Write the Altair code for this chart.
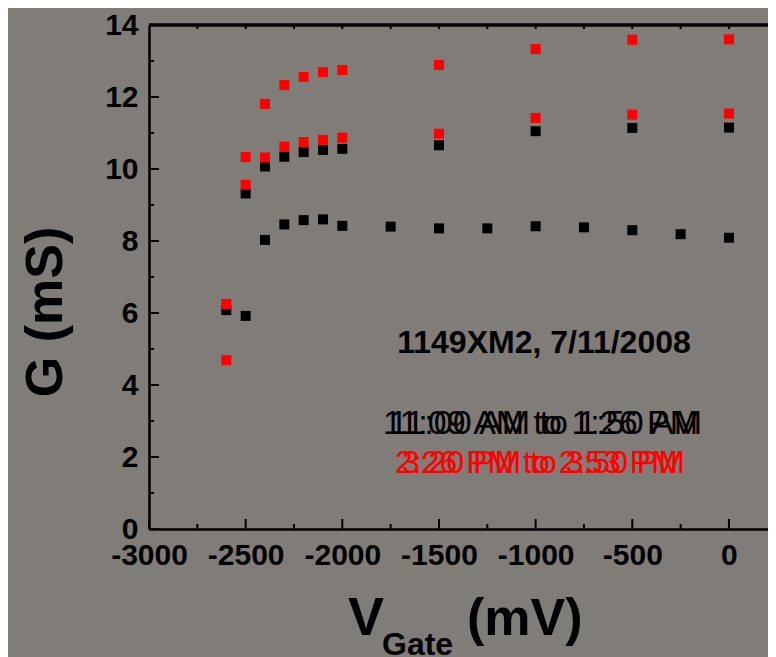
import altair as alt
import pandas as pd

# ---- data ----
v_black_upper = [-2500, -2400, -2300, -2200, -2100, -2000, -1500, -1000, -500, 0]
g_black_upper = [9.32, 10.07, 10.34, 10.47, 10.53, 10.56, 10.66, 11.05, 11.14, 11.15]

v_black_lower = [-2600, -2500, -2400, -2300, -2200, -2100, -2000, -1750, -1500, -1250, -1000, -750, -500, -250, 0]
g_black_lower = [6.08, 5.92, 8.03, 8.46, 8.58, 8.60, 8.42, 8.40, 8.35, 8.35, 8.41, 8.38, 8.30, 8.19, 8.09]

v_red_upper = [-2600, -2500, -2400, -2300, -2200, -2100, -2000, -1500, -1000, -500, 0]
g_red_upper = [6.25, 10.33, 11.81, 12.33, 12.56, 12.69, 12.75, 12.89, 13.33, 13.59, 13.60]

v_red_lower = [-2600, -2500, -2400, -2300, -2200, -2100, -2000, -1500, -1000, -500, 0]
g_red_lower = [4.69, 9.56, 10.32, 10.62, 10.75, 10.81, 10.87, 10.98, 11.42, 11.51, 11.54]

x_major = [-3000, -2500, -2000, -1500, -1000, -500, 0]
x_minor = [-2750, -2250, -1750, -1250, -750, -250]
x_top = [-2750, -2500, -2250, -2000, -1750, -1500, -1250, -1000, -750, -500, -250, 0]
y_major = [0, 2, 4, 6, 8, 10, 12, 14]
y_minor = [1, 3, 5, 7, 9, 11, 13]

title_text = "1149XM2, 7/11/2008"
black_texts = ["11:09 AM to 1:26 PM", "11:00 AM to 1:50 AM"]
red_texts = ["2:26 PM to 2:53 PM", "3:20 PM to 3:50 PM"]

# ---- layout ----
W, H = 619, 504
BG = "#807c78"
FONT = "Liberation Sans"

black_df = pd.DataFrame({
    "v": v_black_upper + v_black_lower,
    "g": g_black_upper + g_black_lower,
})
red_df = pd.DataFrame({
    "v": v_red_upper + v_red_lower,
    "g": g_red_upper + g_red_lower,
})

xscale = alt.Scale(domain=[-3000, 202], nice=False, zero=False)
yscale = alt.Scale(domain=[0, 14], nice=False, zero=False)

common_axis = dict(title=None, ticks=False, tickSize=0, grid=False,
                   domain=True, domainColor="black", domainWidth=2.5,
                   labelFont=FONT, labelFontSize=30, labelFontWeight="bold",
                   labelColor="black", labelPadding=11, labelFlush=False,
                   labelOverlap=False, labelExpr="toString(datum.value)")
xaxis = alt.Axis(values=x_major, **common_axis)
yaxis = alt.Axis(values=y_major, **common_axis)

X = alt.X("v:Q", scale=xscale, axis=xaxis)
Y = alt.Y("g:Q", scale=yscale, axis=yaxis)

black_pts = alt.Chart(black_df).mark_square(size=100, color="black", opacity=1).encode(x=X, y=Y)
red_pts = alt.Chart(red_df).mark_square(size=100, color="#ff0000", opacity=1).encode(x=X, y=Y)

def xrules(vals, y0, y1):
    return alt.Chart(pd.DataFrame({"v": vals})).mark_rule(color="black", strokeWidth=2).encode(
        x=X, y=alt.value(y0), y2=alt.value(y1))

def yrules(vals, x0, x1):
    return alt.Chart(pd.DataFrame({"g": vals})).mark_rule(color="black", strokeWidth=2).encode(
        y=Y, x=alt.value(x0), x2=alt.value(x1))

ticks = [
    xrules(x_major, H, H - 10),
    xrules(x_minor, H, H - 5),
    xrules(x_top, 0, 4),
    yrules(y_major, 0, 10),
    yrules(y_minor, 0, 5),
]

top_line = alt.Chart().mark_rule(color="black", strokeWidth=3.5).encode(
    x=alt.value(0), x2=alt.value(W), y=alt.value(0))

def txt(text, x, y, size, color="black", weight="bold", align="left", angle=0):
    kw = dict(text=text, font=FONT, fontSize=size, fontWeight=weight, color=color,
              align=align, baseline="alphabetic")
    if angle:
        kw["angle"] = angle
    return alt.Chart().mark_text(**kw).encode(x=alt.value(x), y=alt.value(y))

texts = [
    txt("G (mS)", -87, 287, 52, align="center", angle=270),
    txt("V", 199, 610, 54),
    txt("Gate", 233, 630, 32),
    txt("(mV)", 318, 610, 52),
    txt(title_text, 395, 328, 32, align="center"),
    txt(black_texts[0], 234, 409, 34, weight="normal"),
    txt(black_texts[1], 240, 409, 34, weight="normal"),
    txt(red_texts[0], 246, 448, 32, color="#ff0000", weight="normal"),
    txt(red_texts[1], 253, 448, 32, color="#ff0000", weight="normal"),
]

chart = alt.layer(black_pts, red_pts, *ticks, top_line, *texts).properties(
    width=W, height=H,
    background=BG,
    padding={"left": 141, "top": 17, "right": 0, "bottom": 128},
    autosize=alt.AutoSizeParams(type="none"),
).configure_view(stroke=None)

chart.save("out.html", embed_options={"renderer": "svg", "actions": False})
